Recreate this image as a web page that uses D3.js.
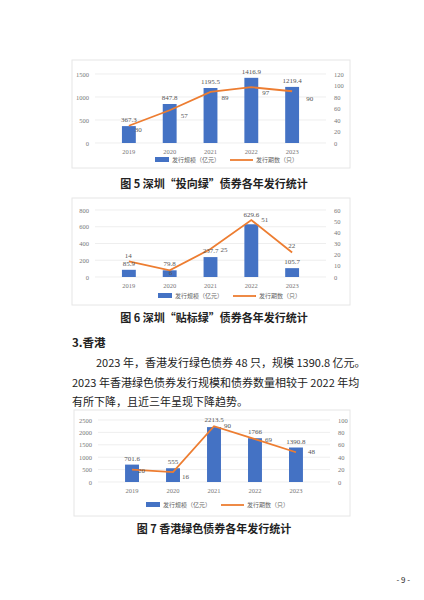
<!DOCTYPE html><html><head><meta charset="utf-8"><script src="https://cdn.jsdelivr.net/npm/d3@7"></script>
<style>body{margin:0;background:#fff}</style></head><body><svg id="s" width="424" height="600"></svg>
<script>
const years=["2019","2020","2021","2022","2023"];
const sz5=[367.3,847.8,1195.5,1416.9,1219.4], cnt5=[30,57,89,97,90];
const sz6=[85.9,79.8,237.7,629.6,105.7], cnt6=[14,6,25,51,22];
const sz7=[701.6,555,2213.5,1766,1390.8], cnt7=[20,16,90,69,48];
const ticksL5=[0,500,1000,1500], ticksR5=[0,20,40,60,80,100,120];
const ticksL6=[0,200,400,600,800], ticksR6=[0,10,20,30,40,50,60];
const ticksL7=[0,500,1000,1500,2000,2500], ticksR7=[0,20,40,60,80,100];
const svg=d3.select("#s"), F="'Noto Sans CJK SC', serif", FS="'Liberation Serif', 'DejaVu Serif', serif";
function chart(o){
  const g=svg.append("g");
  g.append("rect").attr("x",o.bx).attr("y",o.by).attr("width",o.bw).attr("height",o.bh).attr("fill","#fff").attr("stroke","#e6e6e6");
  const x=d3.scaleBand().domain(years).range([o.x0,o.x1]).padding(0.66);
  const yl=d3.scaleLinear().domain([0,d3.max(o.tl)]).range([o.y0,o.y1]);
  const yr=d3.scaleLinear().domain([0,d3.max(o.tr)]).range([o.y0,o.y1]);
  g.selectAll(".gl").data(o.tl).join("line").attr("x1",o.x0).attr("x2",o.x1).attr("y1",d=>yl(d)).attr("y2",d=>yl(d)).attr("stroke","#e3e3e3").attr("stroke-width",0.6);
  g.selectAll(".tl").data(o.tl).join("text").attr("x",o.x0-6).attr("y",d=>yl(d)+2.5).attr("text-anchor","end").attr("font-size",6.5).attr("fill","#777").attr("font-family",FS).text(d=>d);
  g.selectAll(".tr").data(o.tr).join("text").attr("x",o.x1+8).attr("y",d=>yr(d)+2.5).attr("font-size",6.5).attr("fill","#777").attr("font-family",FS).text(d=>d);
  g.selectAll(".b").data(o.sz).join("rect").attr("x",(d,i)=>x(years[i])).attr("width",x.bandwidth()).attr("y",d=>yl(d)).attr("height",d=>o.y0-yl(d)).attr("fill","#4472c4");
  g.selectAll(".xl").data(years).join("text").attr("x",d=>x(d)+x.bandwidth()/2).attr("y",o.y0+11).attr("text-anchor","middle").attr("font-size",6.5).attr("fill","#777").attr("font-family",FS).text(d=>d);
  const cx=i=>x(years[i])+x.bandwidth()/2;
  g.append("path").datum(o.cnt).attr("d",d3.line().x((d,i)=>cx(i)).y(d=>yr(d))).attr("fill","none").attr("stroke","#ed7d31").attr("stroke-width",1.8);
  g.selectAll(".vl").data(o.sz).join("text").attr("x",(d,i)=>cx(i)).attr("y",(d,i)=>yl(d)-4+(o.vdy?o.vdy[i]:0)).attr("text-anchor","middle").attr("font-size",7).attr("fill","#555").attr("font-family",FS).text(d=>d%1?d.toFixed(1):d);
  g.selectAll(".cl").data(o.cnt).join("text").attr("x",(d,i)=>cx(i)+o.cdx[i]).attr("y",(d,i)=>yr(d)+o.cdy[i]).attr("font-size",7).attr("fill","#555").attr("font-family",FS).text(d=>d);
  const lx=o.lx, ly=o.ly;
  g.append("rect").attr("x",lx).attr("y",ly-3).attr("width",14).attr("height",5).attr("fill","#4472c4");
  g.append("text").attr("x",lx+17).attr("y",ly+2).attr("font-size",6).attr("fill","#666").attr("font-family",F).text("发行规模（亿元）");
  g.append("line").attr("x1",lx+75).attr("x2",lx+98).attr("y1",ly).attr("y2",ly).attr("stroke","#ed7d31").attr("stroke-width",1.8);
  g.append("text").attr("x",lx+101).attr("y",ly+2).attr("font-size",6).attr("fill","#666").attr("font-family",F).text("发行期数（只）");
}
chart({bx:72,by:60,bw:278,bh:108,x0:95,x1:326,y0:143,y1:74,tl:ticksL5,tr:ticksR5,sz:sz5,cnt:cnt5,lx:155,ly:160,cdx:[6,11,11,11,14],cdy:[6,8,8,8,10]});
chart({bx:72,by:198,bw:278,bh:107,x0:95,x1:326,y0:277,y1:210,tl:ticksL6,tr:ticksR6,sz:sz6,cnt:cnt6,lx:158,ly:296,cdx:[-4,-1,10,10,-4],cdy:[-3,5,3,2,-4],vdy:[0,0,0,-3,0]});
chart({bx:74,by:410,bw:276,bh:106,x0:98,x1:330,y0:482,y1:420,tl:ticksL7,tr:ticksR7,sz:sz7,cnt:cnt7,lx:146,ly:505,cdx:[6,9,10,10,12],cdy:[3,7,2,3,2],vdy:[0,0,-1,0,0]});
const T=(x,y,t,s,w,a)=>svg.append("text").attr("x",x).attr("y",y).attr("font-size",s).attr("font-weight",w||400).attr("text-anchor",a||"start").attr("fill","#222").attr("font-family",F).text(t);
T(214,188,"图 5 深圳“投向绿”债券各年发行统计",11,700,"middle");
T(214,322,"图 6 深圳“贴标绿”债券各年发行统计",11,700,"middle");
T(72,347,"3.香港",11.5,700);
T(96,367,"2023 年，香港发行绿色债券 48 只，规模 1390.8 亿元。",11);
T(72,387,"2023 年香港绿色债券发行规模和债券数量相较于 2022 年均",11);
T(72,406,"有所下降，且近三年呈现下降趋势。",11);
T(214,533,"图 7 香港绿色债券各年发行统计",11,700,"middle");
T(410,583,"- 9 -",8,400,"end");
</script></body></html>
